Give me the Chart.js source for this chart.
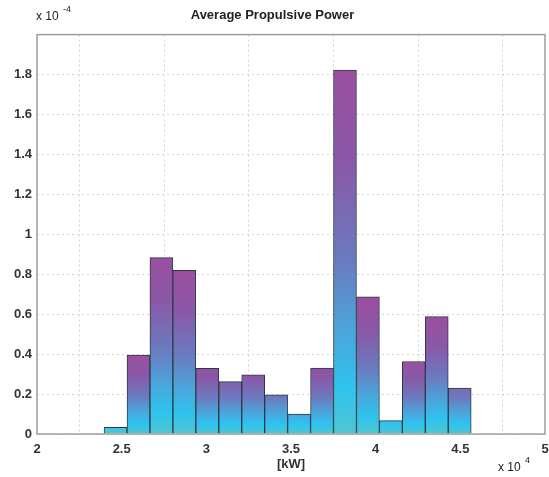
<!DOCTYPE html>
<html>
<head>
<meta charset="utf-8">
<script src="https://cdn.jsdelivr.net/npm/chart.js@4"></script>
<style>
  html, body { margin: 0; padding: 0; background: #fff; }
  #wrap { width: 549px; height: 477px; }
</style>
</head>
<body>
<div id="wrap"><canvas id="myChart"></canvas></div>
<script>
// bin centres (x 10^4 kW) and densities (x 10^-4)
const binCenters = [2.4638, 2.5993, 2.7348, 2.8703, 3.0058, 3.1413, 3.2768, 3.4123,
                    3.5478, 3.6833, 3.8188, 3.9543, 4.0898, 4.2253, 4.3608, 4.4963];
const densities = [0.034, 0.395, 0.883, 0.819, 0.329, 0.262, 0.296, 0.196,
                   0.100, 0.330, 1.822, 0.687, 0.067, 0.363, 0.588, 0.230];
const xTicks = [2, 2.5, 3, 3.5, 4, 4.5, 5];
const yTicks = [0, 0.2, 0.4, 0.6, 0.8, 1, 1.2, 1.4, 1.6, 1.8];

const FONT = "'Liberation Sans', Arial, sans-serif";

// gradient down each bar; short bars only show the lower (cyan) end of it
function bar_gradient(context) {
   const chart = context.chart;
   if (!chart.chartArea) return '#6c78bd';
   const y = chart.scales.y;
   const top = y.getPixelForValue(context.parsed.y);
   const base = y.getPixelForValue(0);
   const span = Math.max(base - top, 75);
   const g = chart.ctx.createLinearGradient(0, base - span, 0, base);
   g.addColorStop(0, '#9b4f9f');
   g.addColorStop(0.25, '#8a58a8');
   g.addColorStop(0.52, '#6a7bbf');
   g.addColorStop(0.72, '#4aa6dc');
   g.addColorStop(0.87, '#2ec3ef');
   g.addColorStop(1, '#4fc6d2');
   return g;
}

// frame + exponent labels like the original figure
const framePlugin = {
   id: 'frame',
   afterDraw(chart) {
      const c = chart.ctx, a = chart.chartArea;
      c.save();
      c.strokeStyle = '#a09c98';
      c.lineWidth = 1.5;
      c.strokeRect(a.left, a.top, a.right - a.left, a.bottom - a.top);

      c.fillStyle = '#222';
      c.textBaseline = 'alphabetic';
      c.textAlign = 'left';
      c.font = '12px ' + FONT;
      c.fillText('x 10', 36, 20);
      c.font = '9px ' + FONT;
      c.fillText('-4', 63, 12);

      c.font = '12px ' + FONT;
      c.fillText('x 10', 498, 471);
      c.font = '9px ' + FONT;
      c.fillText('4', 525, 463);
      c.restore();
   }
};

const ctx = document.getElementById('myChart').getContext('2d');
const myChart = new Chart(ctx, {
   type: 'bar',
   data: {
      datasets: [{
         data: binCenters.map((x, i) => ({x: x, y: densities[i]})),
         backgroundColor: bar_gradient,
         borderColor: '#2a3a44',
         borderWidth: 1,
         barPercentage: 1,
         categoryPercentage: 1
      }]
   },
   options: {
      responsive: true,
      maintainAspectRatio: false,
      animation: false,
      layout: { padding: { top: 0, right: 4, left: 0, bottom: 0 } },
      plugins: {
         legend: { display: false },
         tooltip: { enabled: false },
         title: {
            display: true,
            text: 'Average Propulsive Power',
            color: '#222',
            font: { family: FONT, size: 13, weight: 'bold' },
            padding: { top: 8, bottom: 11 }
         }
      },
      scales: {
         x: {
            type: 'linear',
            min: 2,
            max: 5,
            offset: false,
            afterBuildTicks: s => { s.ticks = xTicks.map(v => ({value: v})); },
            afterFit: s => { s.height = 43; s.paddingLeft = 0; s.paddingRight = 0; },
            ticks: {
               color: '#333',
               font: { family: FONT, size: 13, weight: 'bold' },
               padding: 8,
               maxRotation: 0,
               callback: v => String(v)
            },
            grid: { color: '#d4d4d4', lineWidth: 1, tickLength: 0 },
            border: { display: false, dash: [2, 3] },
            title: {
               display: true,
               text: '[kW]',
               color: '#333',
               font: { family: FONT, size: 13, weight: 'bold' },
               padding: { top: 0, bottom: 5 }
            }
         },
         y: {
            min: 0,
            max: 2,
            afterBuildTicks: s => { s.ticks = yTicks.concat([2]).map(v => ({value: v})); },
            afterFit: s => { s.width = 37; s.paddingTop = 0; s.paddingBottom = 0; },
            ticks: {
               color: '#333',
               font: { family: FONT, size: 13, weight: 'bold' },
               padding: 5,
               callback: v => (v >= 2 ? '' : String(Math.round(v * 10) / 10))
            },
            grid: { color: '#d4d4d4', lineWidth: 1, tickLength: 0 },
            border: { display: false, dash: [2, 3] }
         }
      }
   },
   plugins: [framePlugin]
});
</script>
</body>
</html>
